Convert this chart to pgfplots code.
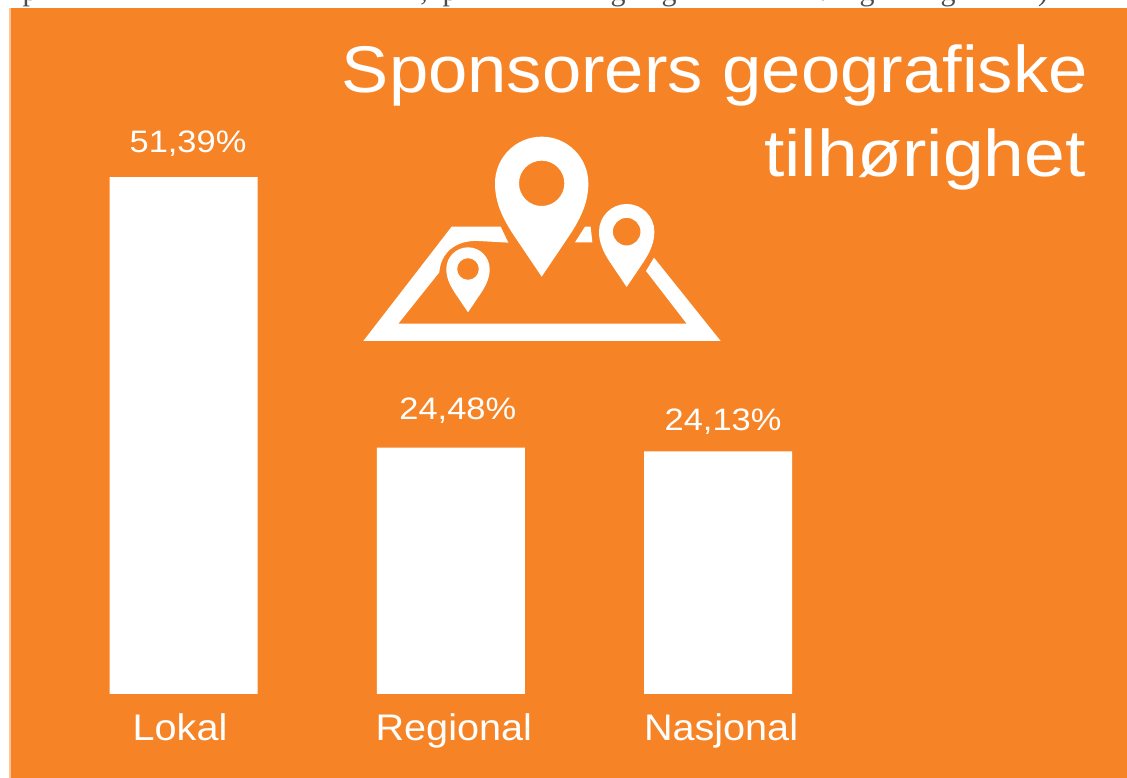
\documentclass[border=0pt]{standalone}
\usepackage{pgfplots}
\pgfplotsset{compat=1.18}
\usepackage{fontspec}
\setmainfont[FakeStretch=1.07]{Liberation Sans}
\newfontfamily\valfont[FakeStretch=1.11]{Liberation Sans}
\newfontfamily\serif{Liberation Serif}
\definecolor{bg}{HTML}{F68426}
\definecolor{edge}{HTML}{FBC595}
\newcommand{\pin}[4]{% cx cy r inner radius (zoom coords)
  \begin{scope}[shift={(#1,#2)},scale=#3]
    \fill[white,even odd rule] (0,2) -- (-0.62,1.08) .. controls (-0.85,0.72) and (-1,0.4) .. (-1,0)
      .. controls (-1,-0.5523) and (-0.5523,-1) .. (0,-1)
      .. controls (0.5523,-1) and (1,-0.5523) .. (1,0)
      .. controls (1,0.4) and (0.85,0.72) .. (0.62,1.08) -- cycle
      (0,0) circle[radius=#4];
  \end{scope}}
\begin{document}
\begin{tikzpicture}
\useasboundingbox (0pt,0pt) rectangle (1127pt,778pt);
\begin{scope}[x=1pt,y=-1pt,shift={(0pt,778pt)}]
  \fill[white] (0,0) rectangle (1127,778);
  \fill[edge] (9,8) rectangle (11,778);
  \fill[bg] (11,8) rectangle (1127,778);
  \begin{scope}
    \clip (0,0) rectangle (1127,8);
    \foreach \xx/\tt in {30/p,424/{,},450/p,618/g,669/g,823/{.},867/g,948/g,1043/{)}}{
      \node[anchor=base,inner sep=0pt,text=black!70] at (\xx,1) {\fontsize{30pt}{30pt}\serif \tt};
    }
  \end{scope}
  % title
  \node[anchor=base east,inner sep=0pt,text=white] at (1088,93) {\fontsize{66pt}{66pt}\selectfont Sponsorers geografiske};
  \node[anchor=base east,inner sep=0pt,text=white] at (1086,177) {\valfont\fontsize{66pt}{66pt}\selectfont tilhørighet};
  % map icon, in coordinates of a 3x crop
  \begin{scope}[shift={(350,125)},scale=0.33333]
    \fill[white] (40,648) -- (1112,648) -- (912,398) -- (888,438) -- (1010,596) -- (145,596)
      -- (268,442) .. controls (272,385) and (315,345) .. (385,348) -- (475,353) -- (452,305) -- (305,305) -- cycle;
    \fill[white] (675,352) -- (705,305) -- (722,305) -- (727,352) -- cycle;
    \pin{575}{175}{140}{0.486}
    \pin{830}{320}{83}{0.5}
    \pin{354}{432}{65}{0.5}
  \end{scope}
\end{scope}
\begin{axis}[
  at={(0pt,84pt)},anchor=south west,
  scale only axis,width=1127pt,height=694pt,
  xmin=-0.6866,xmax=3.530,ymin=0,ymax=68.99,
  ybar,bar width=148pt,
  axis line style={draw=none},
  tick style={draw=none},
  ytick=\empty,
  xtick={0,1,2},
  xticklabels={Lokal\hspace*{7pt},\hspace*{6pt}Regional,\hspace*{6pt}Nasjonal},
  xticklabel style={text=white,font=\fontsize{37pt}{37pt}\selectfont,anchor=base,yshift=-42pt},
  clip=false,
]
\addplot[fill=white,draw=none] coordinates {(0,51.39) (1,24.48) (2,24.13)};
\node[anchor=base,text=white,font=\valfont\fontsize{31pt}{31pt}\selectfont,xshift=4.5pt,yshift=25pt] at (axis cs:0,51.39) {51,39\%};
\node[anchor=base,text=white,font=\valfont\fontsize{31pt}{31pt}\selectfont,xshift=7pt,yshift=28pt] at (axis cs:1,24.48) {24,48\%};
\node[anchor=base,text=white,font=\valfont\fontsize{31pt}{31pt}\selectfont,xshift=5pt,yshift=21pt] at (axis cs:2,24.13) {24,13\%};
\end{axis}
\end{tikzpicture}
\end{document}
